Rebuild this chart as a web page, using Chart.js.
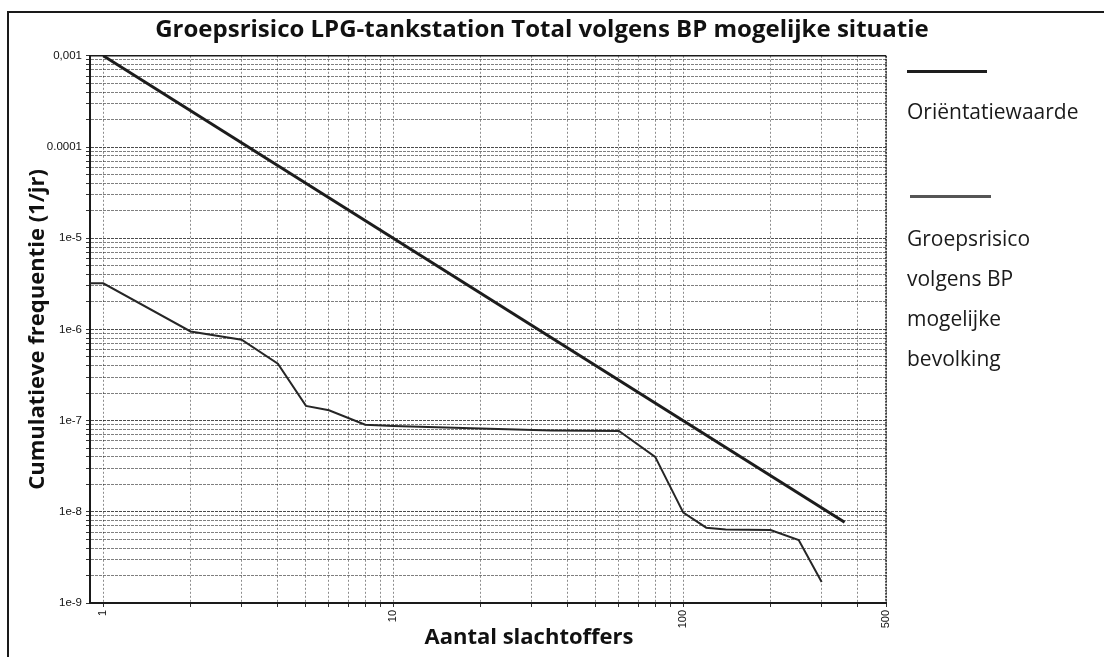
<!DOCTYPE html>
<html><head><meta charset="utf-8">
<script src="https://cdn.jsdelivr.net/npm/chart.js@4"></script>
<style>
html,body{margin:0;padding:0;background:#fff;}
#wrap{position:relative;width:1104px;height:657px;overflow:hidden;background:#fff;}
#frame{position:absolute;left:7px;top:11px;width:1200px;height:700px;border-left:2px solid #1a1a1a;border-top:2px solid #1a1a1a;}
canvas{position:absolute;left:0;top:0;}
.leg{position:absolute;font-family:"Open Sans",sans-serif;font-size:21px;color:#1a1a1a;white-space:nowrap;}
.lline{position:absolute;height:3px;}
#xtitle{position:absolute;left:0;width:1058px;text-align:center;top:624px;font-family:"Open Sans",sans-serif;font-weight:bold;font-size:22px;line-height:22px;color:#111;}
</style>
</head><body>
<div id="wrap">
  <div id="frame"></div>
  <canvas id="c" width="1104" height="657"></canvas>
  <div class="lline" style="left:907px;top:70px;width:80px;background:#1e1e1e;"></div>
  <div class="leg" style="left:907px;top:101px;line-height:21px;">Oriëntatiewaarde</div>
  <div class="lline" style="left:910px;top:195px;width:81px;background:#555;"></div>
  <div class="leg" style="left:907px;top:218px;line-height:40px;">Groepsrisico<br>volgens BP<br>mogelijke<br>bevolking</div>
  <div id="xtitle">Aantal slachtoffers</div>
</div>
<script>
// ---- data ----
const orientN = [1, 360];
const orientF = [1e-3, 7.7e-9];
const grN = [0.9, 1, 2, 3, 4, 5, 6, 8, 10, 20, 35, 60, 80, 100, 120, 140, 200, 250, 300];
const grF = [3.2e-6, 3.2e-6, 9.5e-7, 7.7e-7, 4.2e-7, 1.45e-7, 1.3e-7, 9.0e-8, 8.7e-8, 8.2e-8, 7.8e-8, 7.7e-8, 4.0e-8, 9.8e-9, 6.7e-9, 6.4e-9, 6.3e-9, 4.9e-9, 1.7e-9];

const xMin = 0.9, xMax = 500;
const yMin = 1e-9, yMax = 1e-3;
const xGridValues = [1,2,3,4,5,6,7,8,9,10,20,30,40,50,60,70,80,90,100,200,300,400,500];
const xTickValues = [1, 10, 100, 500];
const xTickLabels = ['1', '10', '100', '500'];
const yMantissas = [1,2,3,4,5,6,7,8,9];
const yExponents = [-9,-8,-7,-6,-5,-4];
const yTickValues = [1e-3, 1e-4, 1e-5, 1e-6, 1e-7, 1e-8, 1e-9];
const yTickLabels = ['0,001', '0.0001', '1e-5', '1e-6', '1e-7', '1e-8', '1e-9'];

const titleText = 'Groepsrisico LPG-tankstation Total volgens BP mogelijke situatie';
const yTitleText = 'Cumulatieve frequentie (1/jr)';

const yGridValues = [];
yExponents.forEach(e => yMantissas.forEach(m => yGridValues.push(m * Math.pow(10, e))));
yGridValues.push(1e-3);

function findLabel(values, labels, v) {
  for (let i = 0; i < values.length; i++) {
    if (Math.abs(values[i] - v) <= values[i] * 1e-6) return labels[i];
  }
  return '';
}
function isDecade(v) {
  const l = Math.log10(v);
  return Math.abs(l - Math.round(l)) < 1e-6;
}

const plotFrame = {
  id: 'plotFrame',
  afterDatasetsDraw(chart) {
    const {ctx, chartArea: a} = chart;
    ctx.save();
    ctx.strokeStyle = '#1a1a1a';
    ctx.lineWidth = 1.5;
    ctx.beginPath();
    ctx.moveTo(a.left, a.top); ctx.lineTo(a.right, a.top);
    ctx.stroke();
    ctx.setLineDash([2, 1]);
    ctx.beginPath();
    ctx.moveTo(a.right, a.top); ctx.lineTo(a.right, a.bottom);
    ctx.stroke();
    ctx.restore();
  }
};

new Chart(document.getElementById('c'), {
  type: 'line',
  data: {
    datasets: [
      {
        label: 'Oriëntatiewaarde',
        data: orientN.map((n, i) => ({x: n, y: orientF[i]})),
        borderColor: '#1c1c1c', borderWidth: 3, pointRadius: 0, tension: 0, fill: false
      },
      {
        label: 'Groepsrisico volgens BP mogelijke bevolking',
        data: grN.map((n, i) => ({x: n, y: grF[i]})),
        borderColor: '#262626', borderWidth: 2, pointRadius: 0, tension: 0, fill: false
      }
    ]
  },
  options: {
    responsive: false,
    animation: false,
    devicePixelRatio: 1,
    layout: {padding: {left: 0, right: 20, top: 0, bottom: 0}},
    plugins: {
      legend: {display: false},
      tooltip: {enabled: false},
      title: {
        display: true, text: titleText, color: '#111',
        font: {family: 'Open Sans', weight: 'bold', size: 24},
        padding: {top: 16, bottom: 11}
      }
    },
    scales: {
      x: {
        type: 'logarithmic', min: xMin, max: xMax, position: 'bottom',
        afterBuildTicks: s => { s.ticks = xGridValues.map(v => ({value: v})); },
        afterFit: s => { s.height = 54; },
        ticks: {
          autoSkip: false, minRotation: 90, maxRotation: 90, padding: 3,
          font: {family: 'Liberation Sans', size: 11}, color: '#111',
          callback: v => findLabel(xTickValues, xTickLabels, v)
        },
        grid: {color: 'rgba(0,0,0,0.45)', lineWidth: 1, tickLength: 4, tickColor: '#333'},
        border: {display: true, color: '#1a1a1a', width: 2, dash: [2, 2]},
        title: {display: false}
      },
      y: {
        type: 'logarithmic', min: yMin, max: yMax, position: 'left',
        afterBuildTicks: s => { s.ticks = yGridValues.map(v => ({value: v})); },
        afterFit: s => { s.width = 90; },
        ticks: {
          autoSkip: false, padding: 4,
          font: {family: 'Liberation Sans', size: 11.5}, color: '#111',
          callback: v => findLabel(yTickValues, yTickLabels, v)
        },
        grid: {
          color: c => (c.tick && isDecade(c.tick.value)) ? 'rgba(0,0,0,0.7)' : 'rgba(0,0,0,0.5)',
          lineWidth: 1, tickLength: 4, tickColor: '#333'
        },
        border: {display: true, color: '#1a1a1a', width: 2, dash: [3, 1]},
        title: {
          display: true, text: yTitleText, color: '#111',
          font: {family: 'Open Sans', weight: 'bold', size: 22},
          padding: {top: 25, bottom: 0}
        }
      },
      yR: {
        type: 'linear', position: 'right', display: true,
        ticks: {display: false},
        grid: {display: false, drawTicks: false},
        border: {display: false},
        afterFit: s => { s.width = 198; }
      }
    }
  },
  plugins: [plotFrame]
});
</script>
</body></html>
